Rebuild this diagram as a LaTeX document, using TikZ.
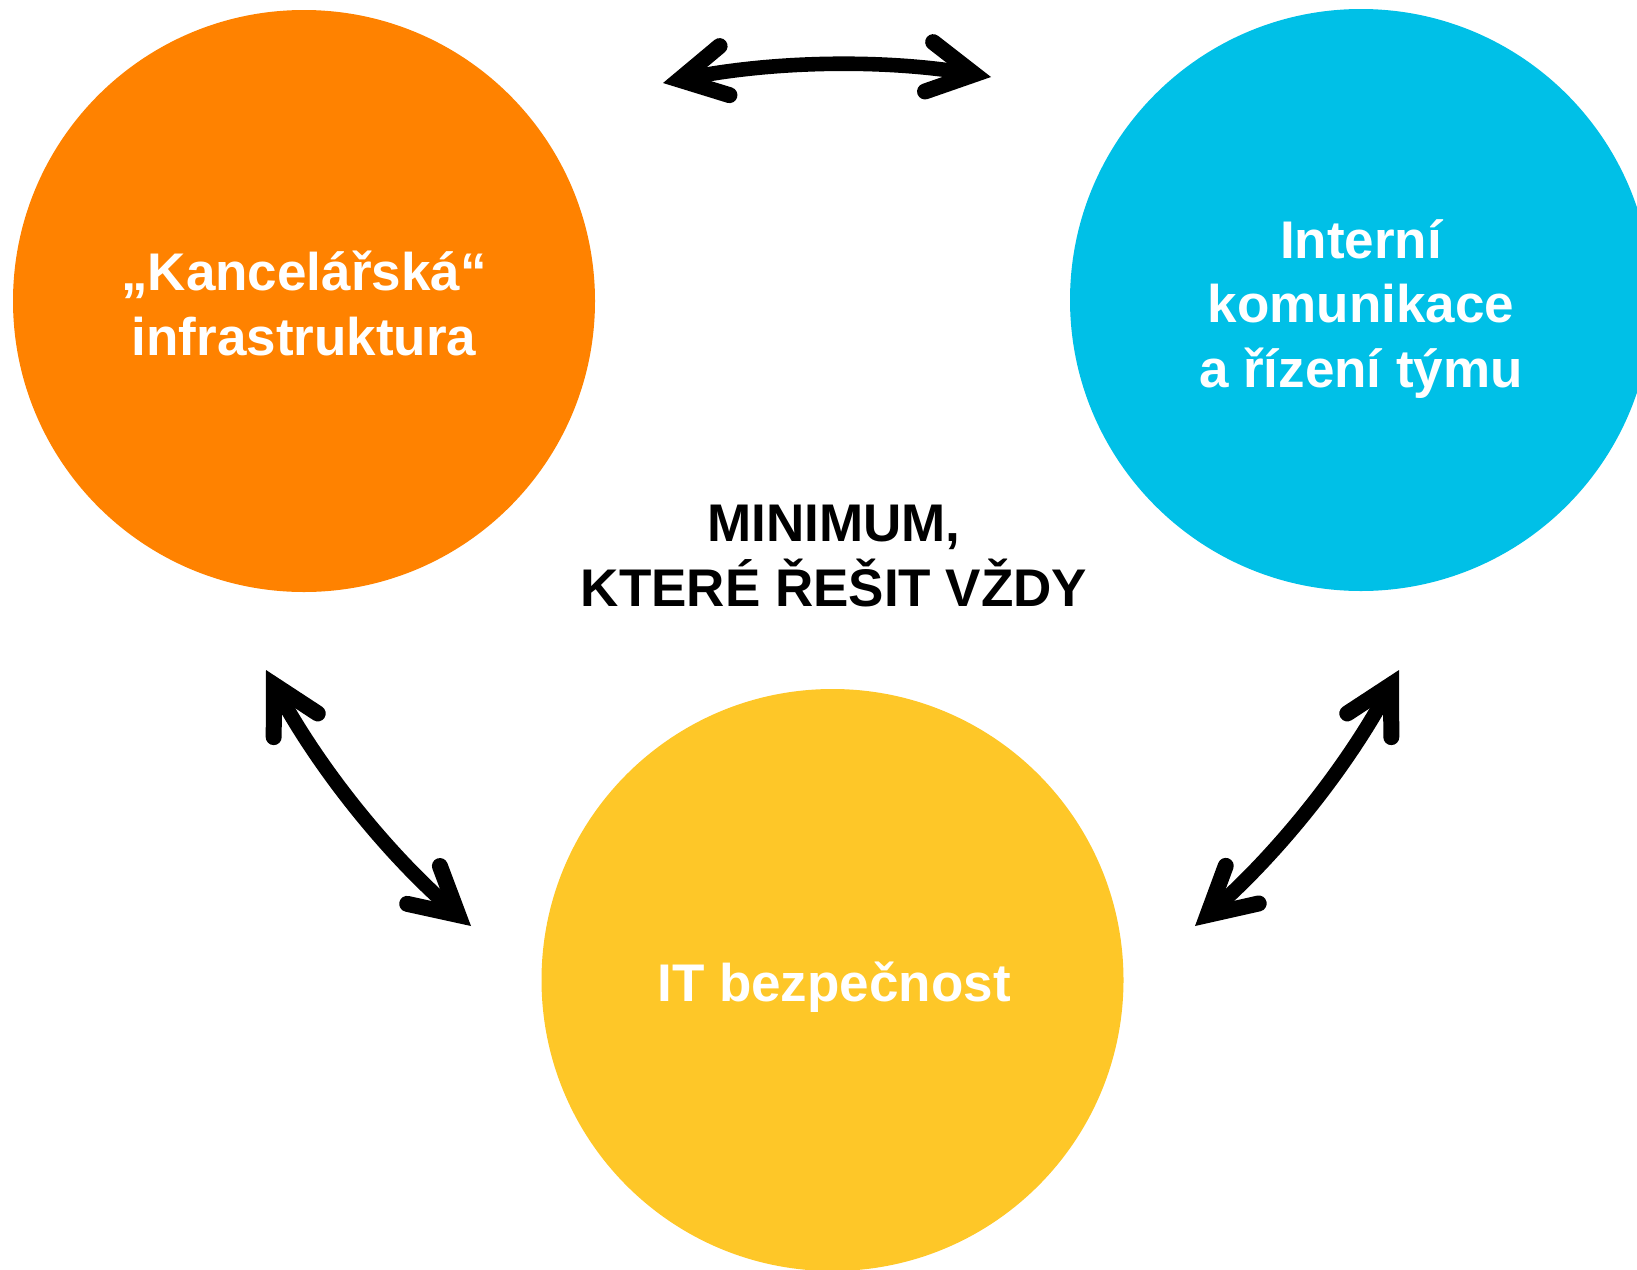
\documentclass[tikz,border=0pt]{standalone}
\usepackage{fontspec}
\setmainfont{Liberation Sans}
\usetikzlibrary{arrows.meta}
\definecolor{corange}{RGB}{255,130,0}
\definecolor{cblue}{RGB}{0,192,231}
\definecolor{cyellow}{RGB}{254,199,40}
\begin{document}
\begin{tikzpicture}[x=0.5pt,y=-0.5pt,
  bubble/.style={circle, inner sep=0pt, minimum size=291pt},
  btext/.style={text=white, inner sep=0pt, align=center,
    font=\fontsize{26.5pt}{32.25pt}\selectfont\bfseries},
  ctext/.style={text=black, inner sep=0pt, align=center,
    font=\fontsize{26.5pt}{32.25pt}\selectfont\bfseries},
  barb/.tip={Straight Barb[length=23pt,width=25pt,line width=8pt,line cap=round,line join=miter]},
  link/.style={line width=7.3pt, black, barb-barb}
]
\useasboundingbox (0,0) rectangle (1637,1269);
\clip (0,0) rectangle (1637,1269);
\node[bubble, fill=corange] (kanc) at (304,301) {};
\node[bubble, fill=cblue] (intk) at (1361,300) {};
\node[bubble, fill=cyellow] (itb) at (832.5,980) {};
\node[btext] (kanct) at (304,303.5) {„Kancelářská“\\infrastruktura};
\node[btext] (intkt) at (1361,309) {Interní\\komunikace\\a řízení týmu};
\node[btext] (itbt) at (834,987) {IT bezpečnost};
\node[ctext] (mint) at (834,556) {MINIMUM,\\KTERÉ ŘEŠIT VŽDY};
\coordinate (ta) at (663,83);
\coordinate (tb) at (991,77);
\coordinate (la) at (266,670);
\coordinate (lb) at (471,926);
\coordinate (ra) at (1399,670);
\coordinate (rb) at (1195,926);
\draw[link] (ta) .. controls (772.3,61) and (881.7,59) .. (tb);
\draw[link] (la) .. controls (318.7,768) and (387,853.3) .. (lb);
\draw[link] (ra) .. controls (1346.3,768) and (1278,853.3) .. (rb);
\end{tikzpicture}
\end{document}
